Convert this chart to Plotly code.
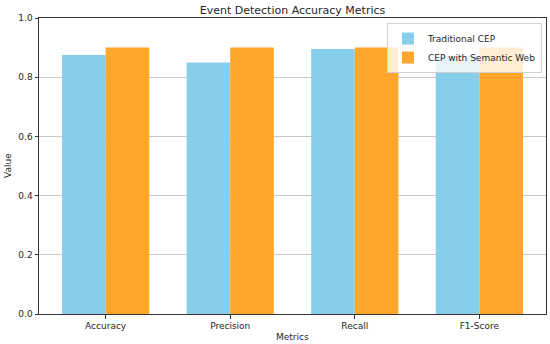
import plotly.graph_objects as go

metrics = ["Accuracy", "Precision", "Recall", "F1-Score"]
traditional_cep = [0.875, 0.85, 0.895, 0.873]
semantic_cep = [0.90, 0.90, 0.90, 0.90]
y_ticks = [0.0, 0.2, 0.4, 0.6, 0.8, 1.0]

font = "DejaVu Sans, sans-serif"

fig = go.Figure()
fig.add_trace(go.Bar(x=metrics, y=traditional_cep, name="Traditional CEP",
                     marker=dict(color="#87CEEB", line=dict(width=0))))
fig.add_trace(go.Bar(x=metrics, y=semantic_cep, name="CEP with Semantic Web",
                     marker=dict(color="#FFA62B", line=dict(width=0))))

fig.update_layout(
    width=550, height=344,
    margin=dict(l=39, r=4, t=18, b=30, autoexpand=False),
    paper_bgcolor="white", plot_bgcolor="white",
    barmode="group", bargap=0.3, bargroupgap=0,
    font=dict(family=font, size=9, color="#262626"),
    title=dict(text="Event Detection Accuracy Metrics", x=0.5, xref="paper", xanchor="center",
               y=1 - 10 / 344, yref="container", yanchor="middle",
               font=dict(size=11, color="#262626")),
    legend=dict(x=0.992, xanchor="right", y=0.983, yanchor="top",
                bgcolor="rgba(255,255,255,0.8)", bordercolor="#d0d0d0", borderwidth=1,
                font=dict(size=9), tracegroupgap=0),
    xaxis=dict(range=[-0.535, 3.535], showgrid=False, ticks="outside", ticklen=3.5,
               tickcolor="#333", showline=True, linecolor="#333", linewidth=1, mirror=True,
               automargin=False),
    yaxis=dict(range=[0, 1.0], tickvals=y_ticks, ticktext=[f"{v:.1f}" for v in y_ticks],
               showgrid=True, gridcolor="#c8c8c8", gridwidth=1, ticks="outside", ticklen=3.5,
               tickcolor="#333", showline=True, linecolor="#333", linewidth=1, mirror=True,
               zeroline=False, automargin=False),
    annotations=[
        dict(text="Metrics", xref="paper", yref="paper", x=0.5, y=-22.5 / 296,
             xanchor="center", yanchor="middle", showarrow=False, font=dict(size=9)),
        dict(text="Value", xref="paper", yref="paper", x=-31 / 507, y=0.5,
             xanchor="center", yanchor="middle", textangle=-90, showarrow=False,
             font=dict(size=9)),
    ],
)

fig.write_html("out.html", config={"displayModeBar": False},
               post_script="document.body.style.margin='0';document.body.style.overflow='hidden';")
